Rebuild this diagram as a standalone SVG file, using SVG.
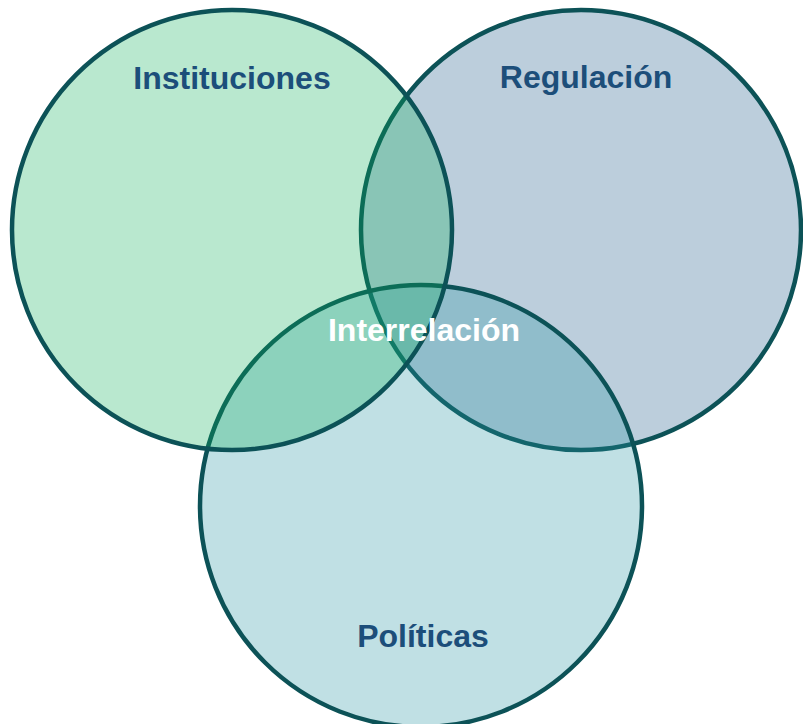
<svg xmlns="http://www.w3.org/2000/svg" width="803" height="724" viewBox="0 0 803 724">
<style>
.c{stroke:#0C5257;stroke-width:4.5;fill-opacity:0.29}
.t{font-family:"Liberation Sans",Arial,sans-serif;font-weight:bold;font-size:32px;text-anchor:middle;fill:#1C4E7A}
.w{fill:#FFFFFF}
</style>
<rect width="803" height="724" fill="#FFFFFF"/>
<g id="regulacion"><circle class="c" cx="581" cy="230" r="220" fill="#185686"/></g>
<g id="politicas"><circle class="c" cx="421" cy="506" r="221" fill="#2694A2"/></g>
<g id="instituciones"><circle class="c" cx="232" cy="230" r="220" fill="#0EB05A"/></g>
<g id="labels">
<text class="t" x="232" y="89">Instituciones</text>
<text class="t" x="586" y="88">Regulación</text>
<text class="t" x="423" y="647">Políticas</text>
<text class="t w" x="424" y="341">Interrelación</text>
</g>
<g id="connectors"/>
</svg>
